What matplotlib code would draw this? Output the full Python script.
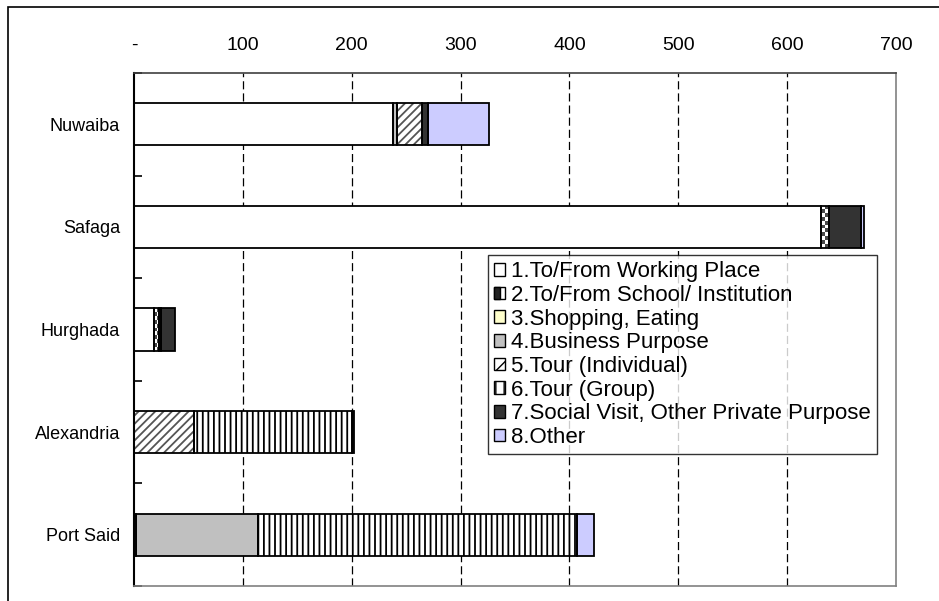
import numpy as np
import matplotlib
matplotlib.use("Agg")
import matplotlib.pyplot as plt
from matplotlib.patches import Rectangle, Patch
from matplotlib.legend_handler import HandlerBase
from matplotlib.ticker import FuncFormatter, FixedLocator

plt.rcParams['font.family'] = ['Liberation Sans', 'DejaVu Sans']

# Trips by purpose at each port
ports = ['Nuwaiba', 'Safaga', 'Hurghada', 'Alexandria', 'Port Said']
purposes = ['1.To/From Working Place', '2.To/From School/ Institution',
            '3.Shopping, Eating', '4.Business Purpose', '5.Tour (Individual)',
            '6.Tour (Group)', '7.Social Visit, Other Private Purpose', '8.Other']
working = [237.6, 630.8, 18.7, 0, 1.5]
school = [0, 7.3, 4.6, 0, 0]
shopping = [0, 0, 0, 0, 0]
business = [3.7, 0, 1.3, 0, 112]
tour_individual = [23, 0, 0, 55.1, 0]
tour_group = [0, 0, 0, 145.3, 293]
social = [6.1, 29.4, 13.5, 1.3, 0]
other = [56, 3, 0, 0, 16.3]
x_ticks = [0, 100, 200, 300, 400, 500, 600, 700]

series = [working, school, shopping, business, tour_individual,
          tour_group, social, other]

# style per purpose: (face, hatch, hatch colour)
styles = [
    ('white', None, None),
    ('checker', None, None),
    ('#FFFFCC', None, None),
    ('#C0C0C0', None, None),
    ('white', '////', '#555555'),
    ('white', '|||', 'black'),
    ('#333333', None, None),
    ('#CCCCFF', None, None),
]

W, H = 939, 601
fig = plt.figure(figsize=(W / 100, H / 100), dpi=100)

# outer chart border
fig.patches.append(Rectangle((8 / W, -0.05), 1.2, 1 - 7 / H + 0.05,
                             transform=fig.transFigure, fill=False,
                             edgecolor='black', linewidth=1.2))

ax = fig.add_axes([134 / W, (H - 586) / H, (896 - 134) / W, (586 - 73) / H])
ax.set_xlim(0, 700)
ax.set_ylim(len(ports) - 0.5, -0.5)

bar_h = 0.41
hatch_rc = {'hatch.linewidth': 1.3}

for yi in range(len(ports)):
    left = 0.0
    for si, vals in enumerate(series):
        v = vals[yi]
        if v <= 0:
            continue
        face, hatch, hcol = styles[si]
        x0, y0 = left, yi - bar_h / 2
        if face == 'checker':
            # checkerboard fill, clipped to the segment
            box = Rectangle((x0, y0), v, bar_h, facecolor='white',
                            edgecolor='none', zorder=2)
            ax.add_patch(box)
            nx = max(2, int(round(v / 3.7)))
            ny = max(2, int(round(bar_h / 0.039)))
            cb = (np.add.outer(np.arange(ny), np.arange(nx)) % 2).astype(float)
            im = ax.imshow(cb, cmap='gray_r', vmin=0, vmax=1.4,
                           extent=(x0, x0 + v, y0 + bar_h, y0),
                           interpolation='nearest', aspect='auto', zorder=2.5)
            im.set_clip_path(box)
        elif hatch:
            with plt.rc_context(hatch_rc):
                ax.add_patch(Rectangle((x0, y0), v, bar_h, facecolor=face,
                                       edgecolor=hcol, hatch=hatch,
                                       linewidth=0, zorder=2))
        else:
            ax.add_patch(Rectangle((x0, y0), v, bar_h, facecolor=face,
                                   edgecolor='none', zorder=2))
        ax.add_patch(Rectangle((x0, y0), v, bar_h, fill=False,
                               edgecolor='black', linewidth=1.3, zorder=3))
        left += v

ax.set_xlim(0, 700)
ax.set_ylim(len(ports) - 0.5, -0.5)

# value axis: labels along the top, dashed gridlines
ax.xaxis.set_major_locator(FixedLocator(x_ticks))
ax.xaxis.set_major_formatter(FuncFormatter(lambda v, p: '-' if v == 0 else f'{v:.0f}'))
ax.xaxis.tick_top()
ax.tick_params(axis='x', which='major', length=0, pad=14, labelsize=14)
ax.set_axisbelow(True)
for xv in x_ticks[1:-1]:
    ax.axvline(xv, color='black', linewidth=0.9, linestyle=(0, (6.5, 3.2)), zorder=1)

# category axis
ax.set_yticks(range(len(ports)))
ax.set_yticklabels(ports)
ax.tick_params(axis='y', which='major', length=0, pad=10, labelsize=13)
ax.set_yticks(np.arange(-0.5, len(ports), 1.0), minor=True)
ax.tick_params(axis='y', which='minor', direction='in', length=6,
               width=1.2, color='black')

for side in ['right', 'bottom']:
    ax.spines[side].set_color('#808080')
    ax.spines[side].set_linewidth(1.2)
ax.spines['top'].set_color('#404040')
ax.spines['top'].set_linewidth(1.2)
ax.spines['left'].set_color('black')
ax.spines['left'].set_linewidth(1.5)


class HalfHandler(HandlerBase):
    def create_artists(self, legend, orig_handle, xdescent, ydescent,
                       width, height, fontsize, trans):
        r1 = Rectangle((-xdescent, -ydescent), width, height, facecolor='white',
                       edgecolor='black', linewidth=1, transform=trans)
        r2 = Rectangle((-xdescent, -ydescent), width * 0.55, height,
                       facecolor='#222222', edgecolor='black', linewidth=1,
                       transform=trans)
        return [r1, r2]


handles = []
handler_map = {}
for si, (face, hatch, hcol) in enumerate(styles):
    if face == 'checker':
        h = Patch(facecolor='white', edgecolor='black')
        handler_map[h] = HalfHandler()
    elif hatch:
        h = Patch(facecolor=face, edgecolor='black',
                  hatch='//' if hatch == '////' else '||', linewidth=1)
    else:
        h = Patch(facecolor=face, edgecolor='black', linewidth=1)
    handles.append(h)

leg = fig.legend(handles, purposes, handler_map=handler_map,
                 loc='upper left', bbox_to_anchor=(488 / W, 1 - 255 / H),
                 bbox_transform=fig.transFigure, borderaxespad=0,
                 fontsize=16, frameon=True, fancybox=False, shadow=False,
                 handlelength=0.5, handleheight=0.5, handletextpad=0.25,
                 borderpad=0.28, labelspacing=0.12)
leg.get_frame().set_edgecolor('black')
leg.get_frame().set_linewidth(1.0)

fig.savefig('out.png', dpi=100)
